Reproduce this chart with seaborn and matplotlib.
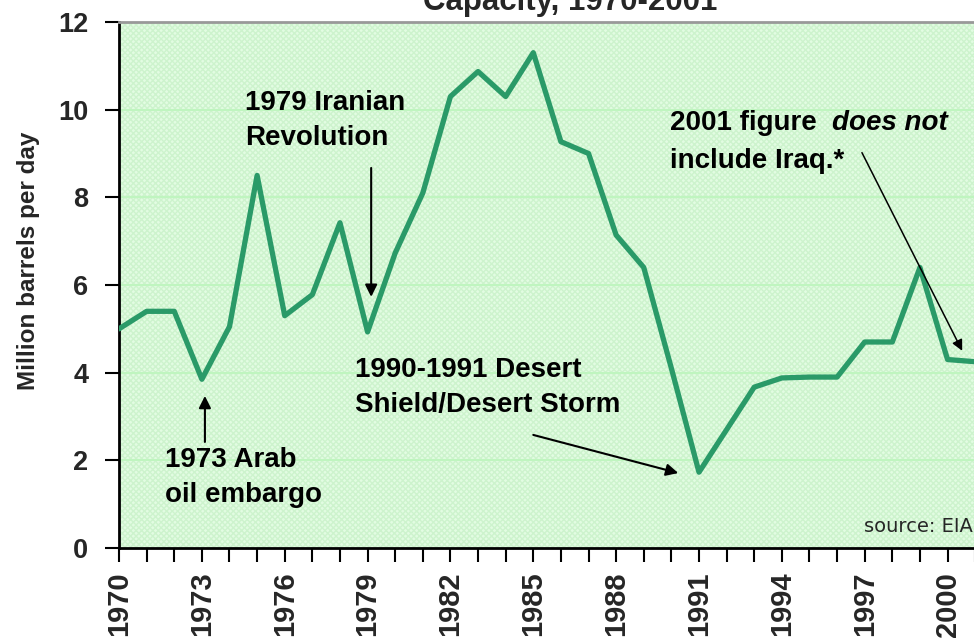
import numpy as np
import matplotlib
matplotlib.use("Agg")
import matplotlib.pyplot as plt
import matplotlib.patches as mpatches
import seaborn as sns

# spare capacity, million barrels per day
years = list(range(1970, 2002))
capacity = [5.0, 5.4, 5.4, 3.85, 5.05, 8.5, 5.3, 5.78, 7.42, 4.93,
            6.73, 8.1, 10.3, 10.87, 10.3, 11.3, 9.27, 9.0, 7.14, 6.4,
            4.1, 1.73, 2.7, 3.67, 3.88, 3.9, 3.9, 4.7, 4.7, 6.4,
            4.3, 4.25]

tick_years = list(range(1970, 2001, 3))
y_ticks = [0, 2, 4, 6, 8, 10, 12]

sns.set_style("white")
plt.rcParams['font.family'] = ['Liberation Sans', 'DejaVu Sans']

fig = plt.figure(figsize=(9.74, 6.43), dpi=100)
ax = fig.add_axes([0.1222, 0.1477, 0.879, 0.8181])

ax.set_facecolor('#e2fce2')
# fine crosshatch texture of the plot area
bg = mpatches.Rectangle((0, 0), 1, 1, transform=ax.transAxes, facecolor='none',
                        edgecolor='#cdf3cd', hatch='xxxxxx', linewidth=0, zorder=0)
ax.add_patch(bg)

for g in y_ticks[1:-1]:
    ax.axhline(g, color='#bff5bf', lw=1.5, zorder=1)

sns.lineplot(x=years, y=capacity, ax=ax, color='#2a9a68', lw=3.8, zorder=3)

ax.set_xlim(1970, 2001)
ax.set_ylim(0, 12)
ax.set_xticks(years, minor=True)
ax.set_xticks(tick_years)
ax.set_xticklabels([str(y) for y in tick_years], rotation=90, fontsize=21, fontweight='bold')
ax.set_yticks(y_ticks)
ax.set_yticklabels([str(v) for v in y_ticks], fontsize=19.5, fontweight='bold')
ax.tick_params(axis='both', which='both', direction='out', length=10, width=1.5,
               color='black', bottom=True, left=True)
ax.tick_params(axis='x', which='major', pad=7)
ax.tick_params(axis='y', pad=12)

ax.spines['right'].set_visible(False)
ax.spines['top'].set_color('#999999')
ax.spines['top'].set_linewidth(2)
for s in ['left', 'bottom']:
    ax.spines[s].set_color('black')
    ax.spines[s].set_linewidth(2)

ax.set_ylabel('Million barrels per day', fontsize=17.5, fontweight='bold')
ax.yaxis.set_label_coords(-0.092, 0.546)

ann = dict(fontsize=20, fontweight='bold', color='black', linespacing=1.45)
arrow = dict(arrowstyle='-|>', color='black', lw=1.5, mutation_scale=18,
             shrinkA=0, shrinkB=0)

ax.text(1974.56, 10.45, '1979 Iranian\nRevolution', ha='left', va='top', **ann)
ax.annotate('', xy=(1979.13, 5.73), xytext=(1979.13, 8.67), arrowprops=arrow)

ax.text(1971.67, 2.3, '1973 Arab\noil embargo', ha='left', va='top', **ann)
ax.annotate('', xy=(1973.11, 3.47), xytext=(1973.11, 2.42), arrowprops=arrow)

ax.text(1978.55, 4.35, '1990-1991 Desert\nShield/Desert Storm', ha='left', va='top', **ann)
ax.annotate('', xy=(1990.25, 1.71), xytext=(1985.0, 2.58), arrowprops=arrow)

ax.text(1989.96, 10.0, '2001 figure', ha='left', va='top', **ann)
ax.text(1995.8, 10.0, 'does not', ha='left', va='top', style='italic', **ann)
ax.text(1989.96, 9.12, 'include Iraq.*', ha='left', va='top', **ann)
ax.annotate('', xy=(2000.53, 4.5), xytext=(1996.9, 9.02),
            arrowprops=dict(arrow, lw=1.1, mutation_scale=16))

ax.text(0.997, 0.022, 'source: EIA', transform=ax.transAxes, ha='right', va='bottom',
        fontsize=14, fontweight='normal', family='DejaVu Sans')

fig.text(0.585, 0.9844, 'Capacity, 1970-2001', ha='center', va='baseline',
         fontsize=22.5, fontweight='bold')

fig.savefig('out.png', dpi=100)
